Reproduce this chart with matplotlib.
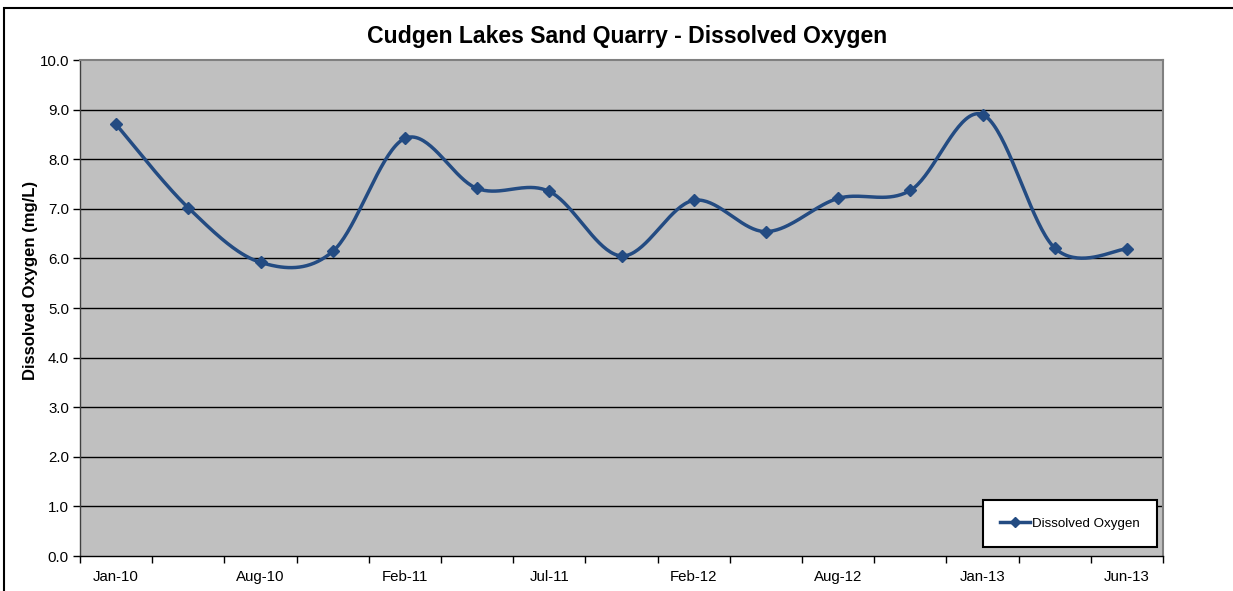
import numpy as np
import matplotlib
matplotlib.use("Agg")
import matplotlib.pyplot as plt
from matplotlib.lines import Line2D
from matplotlib.patches import Rectangle

plt.rcParams['font.family'] = ['Liberation Sans', 'DejaVu Sans']

categories = ["Jan-10", "", "Aug-10", "", "Feb-11", "", "Jul-11", "", "Feb-12", "",
              "Aug-12", "", "Jan-13", "", "Jun-13"]
dissolved_oxygen = [8.7, 7.02, 5.92, 6.14, 8.42, 7.41, 7.35, 6.05, 7.17, 6.54,
                    7.21, 7.37, 8.9, 6.21, 6.19]
y_ticks = [0, 1, 2, 3, 4, 5, 6, 7, 8, 9, 10]

LINE_COLOR = '#234B82'

def excel_smooth(x, y, n=40):
    x = np.asarray(x, float); y = np.asarray(y, float)
    P = np.column_stack([x, y])
    m = len(P)
    out = [P[0]]
    for i in range(m - 1):
        p0 = P[i - 1] if i > 0 else P[i]
        p1 = P[i]
        p2 = P[i + 1]
        p3 = P[i + 2] if i + 2 < m else P[i + 1]
        c1 = p1 + (p2 - p0) / 6.0
        c2 = p2 - (p3 - p1) / 6.0
        t = np.linspace(0, 1, n)[1:, None]
        seg = ((1 - t) ** 3) * p1 + 3 * ((1 - t) ** 2) * t * c1 + 3 * (1 - t) * t ** 2 * c2 + t ** 3 * p2
        out.extend(seg)
    out = np.array(out)
    return out[:, 0], out[:, 1]

W, H = 1233, 591
fig = plt.figure(figsize=(W / 100, H / 100), dpi=100)
# outer chart border
fig.add_artist(Rectangle((4 / W, -0.05), 1.1, (H - 8) / H + 0.05,
                         transform=fig.transFigure, fill=False,
                         edgecolor='black', linewidth=1.5))

ax = fig.add_axes([80 / W, (H - 556) / H, (1163 - 80) / W, (556 - 60) / H])
ax.set_facecolor('#C0C0C0')

n = len(dissolved_oxygen)
xs = np.arange(n) + 0.5
sx, sy = excel_smooth(xs, dissolved_oxygen)
ax.plot(sx, sy, color=LINE_COLOR, linewidth=2.5, zorder=3, solid_capstyle='round')
ax.plot(xs, dissolved_oxygen, linestyle='none', marker='D', markersize=6,
        color=LINE_COLOR, zorder=4)

ax.set_xlim(0, n)
ax.set_ylim(0, 10)
ax.set_yticks(y_ticks)
ax.set_yticklabels([f"{v:.1f}" for v in y_ticks], fontsize=10.8)
for v in y_ticks[1:-1]:
    ax.axhline(v, color='black', linewidth=1, zorder=1)

ax.set_xticks(np.arange(n + 1), minor=False)
ax.set_xticklabels([])
ax.set_xticks(xs, minor=True)
ax.set_xticklabels(categories, minor=True, fontsize=10.8)
ax.tick_params(axis='x', which='major', direction='out', length=5, width=1, color='black')
ax.tick_params(axis='x', which='minor', length=0, pad=10)
ax.tick_params(axis='y', direction='out', length=5, width=1, color='black', pad=3)

ax.spines['bottom'].set_color('black')
ax.spines['bottom'].set_linewidth(1)
ax.spines['left'].set_color('#404040')
ax.spines['left'].set_linewidth(1)
ax.spines['top'].set_color('#808080')
ax.spines['top'].set_linewidth(1.5)
ax.spines['right'].set_color('#808080')
ax.spines['right'].set_linewidth(1.5)

fig.text(30 / W, (H - 280) / H, "Dissolved Oxygen (mg/L)", rotation=90,
         ha='center', va='center', fontsize=12, fontweight='bold')
fig.text(627 / W, (H - 36) / H, "Cudgen Lakes Sand Quarry - Dissolved Oxygen",
         ha='center', va='center', fontsize=16.6, fontweight='bold')

handle = Line2D([], [], color=LINE_COLOR, linewidth=2.5, marker='D', markersize=5)
leg = ax.legend([handle], ["Dissolved Oxygen"], loc='lower right',
                bbox_to_anchor=((1157 - 80) / (1163 - 80), (556 - 547) / (556 - 60)),
                fontsize=9.6, frameon=True, fancybox=False, borderpad=1.3,
                handlelength=2.25, handletextpad=0.15, borderaxespad=0)
leg.get_frame().set_edgecolor('black')
leg.get_frame().set_linewidth(1.5)
leg.get_frame().set_facecolor('white')
leg.get_frame().set_alpha(1)
leg.set_zorder(10)

fig.savefig("out.png", dpi=100)
